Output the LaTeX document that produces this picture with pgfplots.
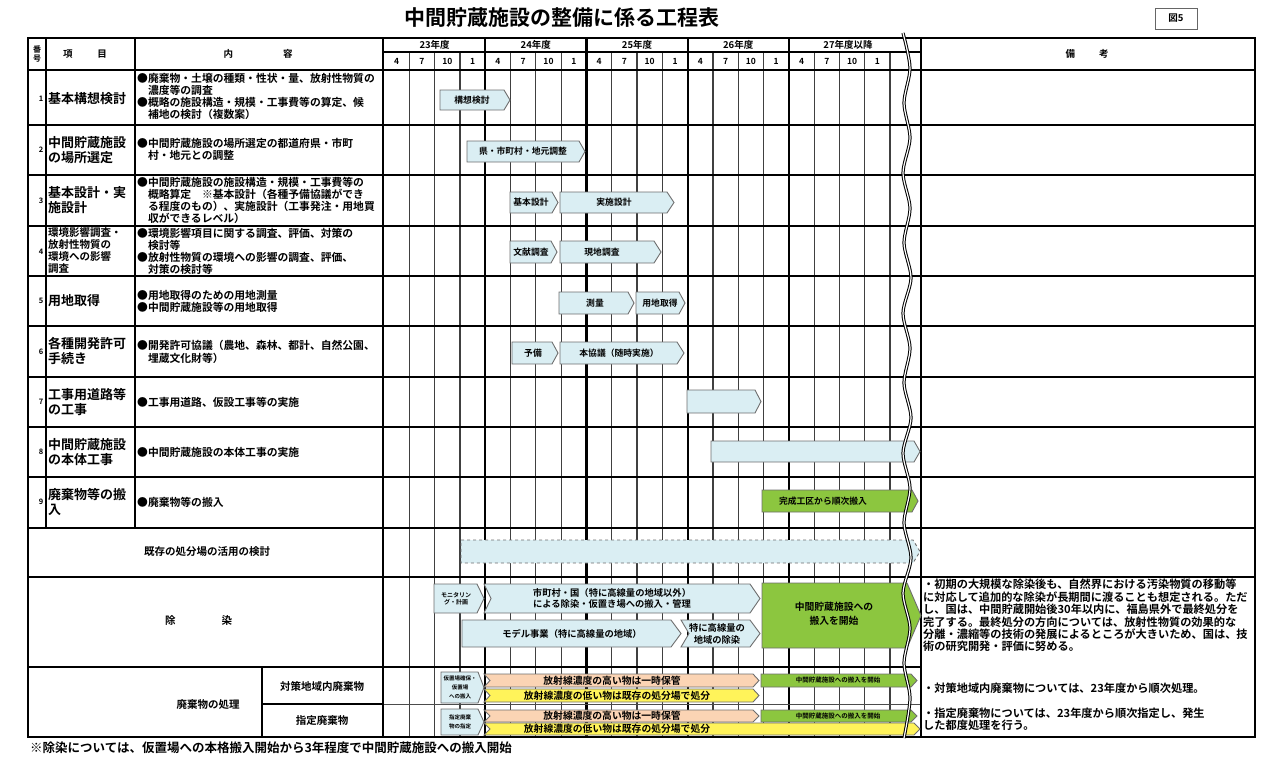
\documentclass[border=0pt]{standalone}
\usepackage{pgfplots}
\pgfplotsset{compat=1.18}
\usepackage{fontspec}
\setmainfont{Noto Sans CJK JP}[UprightFont=* Bold]
\definecolor{bluefill}{HTML}{DAEEF3}
\definecolor{bardraw}{HTML}{6E6E6E}
\definecolor{greenfill}{HTML}{8CC63F}
\definecolor{peachfill}{HTML}{FBD4B4}
\definecolor{yellowfill}{HTML}{FFF35A}
\newcommand\fs[2]{\fontsize{#1}{#2}\selectfont}
\newcommand\gbar[7]{%
  \pgfmathsetmacro\xa{#2-#5}%
  \pgfmathsetmacro\ym{(#3+#4)/2}%
  \pgfmathsetmacro\xn{#1+#6}%
  \edef\temp{\noexpand\addplot[#7] coordinates {(#1,#3) (\xa,#3) (#2,\ym) (\xa,#4) (#1,#4) (\xn,\ym)} -- cycle;}%
  \temp}
\tikzset{
  bluebar/.style={fill=bluefill, draw=bardraw, line width=0.9pt},
  dashbar/.style={fill=bluefill, draw=bardraw, dashed, line width=0.9pt},
  greenbar/.style={fill=greenfill, draw=bardraw, line width=0.9pt},
  peachbar/.style={fill=peachfill, draw=bardraw, line width=0.9pt},
  yellowbar/.style={fill=yellowfill, draw=bardraw, line width=0.9pt},
  ml/.style={line width=1.2pt, black!75},
  yl/.style={line width=2.2pt, black},
}
\begin{document}
\begin{tikzpicture}
\begin{axis}[width=1276pt,height=756pt,scale only axis,
  xmin=0,xmax=1276,ymin=0,ymax=756,y dir=reverse,hide axis,clip=false]
\path[draw=none] (0,0) rectangle (1276,756);
% ---------- grid in chart area
\draw[ml] (409.3,52) -- (409.3,737); \draw[ml] (434.6,52) -- (434.6,737); \draw[ml] (459.9,52) -- (459.9,737);
\draw[ml] (510.5,52) -- (510.5,737); \draw[ml] (535.8,52) -- (535.8,737); \draw[ml] (561.1,52) -- (561.1,737);
\draw[ml] (611.7,52) -- (611.7,737); \draw[ml] (637.0,52) -- (637.0,737); \draw[ml] (662.3,52) -- (662.3,737);
\draw[ml] (712.9,52) -- (712.9,737); \draw[ml] (738.2,52) -- (738.2,737); \draw[ml] (763.5,52) -- (763.5,737);
\draw[ml] (814.1,52) -- (814.1,737); \draw[ml] (839.4,52) -- (839.4,737); \draw[ml] (864.7,52) -- (864.7,737);
\draw[ml] (890.0,52) -- (890.0,737);
\draw[yl] (485.2,38) -- (485.2,737); \draw[yl] (586.4,38) -- (586.4,737);
\draw[yl] (687.6,38) -- (687.6,737); \draw[yl] (788.8,38) -- (788.8,737);
\draw[line width=1.3pt] (383,52) -- (921,52);
\draw[line width=0.9pt, black!70] (383,704) -- (921,704);
% ---------- table lines
\draw[line width=2pt] (28,125) -- (1255,125); \draw[line width=2pt] (28,175) -- (1255,175);
\draw[line width=2pt] (28,226) -- (1255,226); \draw[line width=2pt] (28,276) -- (1255,276);
\draw[line width=2pt] (28,326) -- (1255,326); \draw[line width=2pt] (28,377) -- (1255,377);
\draw[line width=2pt] (28,427) -- (1255,427); \draw[line width=2pt] (28,477) -- (1255,477);
\draw[line width=2.4pt] (28,528) -- (1255,528); \draw[line width=2.4pt] (28,577) -- (1255,577);
\draw[line width=2.2pt] (28,667) -- (921,667);
\draw[line width=2.4pt] (28,70) -- (1255,70);
\draw[line width=1.2pt] (46,38) -- (46,528);
\draw[line width=2pt] (135,38) -- (135,528);
\draw[line width=1.2pt] (262,667) -- (262,737);
\draw[line width=1.2pt] (262,704) -- (383,704);
\draw[line width=2.6pt] (383,38) -- (383,737);
\draw[line width=2.8pt] (921,38) -- (921,737);
\draw[line width=2.8pt] (28,38) rectangle (1255,737);
% ---------- bars
\gbar{440}{510}{90}{110}{6}{0}{bluebar}
\gbar{467}{585}{141}{162}{6}{0}{bluebar}
\gbar{510}{558}{192}{213}{6}{0}{bluebar}
\gbar{560}{674}{192}{213}{7}{0}{bluebar}
\gbar{510}{557}{241}{263}{6}{0}{bluebar}
\gbar{560}{661}{241}{263}{7}{0}{bluebar}
\gbar{559}{634}{292}{314}{6}{0}{bluebar}
\gbar{636}{685}{292}{314}{6}{0}{bluebar}
\gbar{512}{558}{342}{364}{6}{0}{bluebar}
\gbar{560}{684}{342}{364}{7}{0}{bluebar}
\gbar{687}{761}{390}{413}{6}{0}{bluebar}
\gbar{711}{920}{441}{462}{6}{0}{bluebar}
\gbar{762}{918}{490}{512}{6}{0}{greenbar}
\gbar{461}{920}{540}{563}{7}{0}{dashbar}
\gbar{434}{484}{584}{613}{7}{0}{bluebar}
\gbar{484}{760}{584}{613}{10}{7}{bluebar}
\gbar{462}{681}{620}{647}{10}{0}{bluebar}
\gbar{681}{760}{620}{647}{10}{8}{bluebar}
\gbar{762}{921}{583}{648}{14}{0}{greenbar}
\gbar{441}{484}{672}{703}{6}{0}{bluebar}
\gbar{484}{759}{674}{687}{6}{6}{peachbar}
\gbar{484}{759}{689}{702}{6}{6}{yellowbar}
\gbar{761}{917}{674}{687}{6}{0}{greenbar}
\gbar{441}{484}{709}{735}{6}{0}{bluebar}
\gbar{484}{759}{710}{722}{6}{6}{peachbar}
\gbar{761}{917}{710}{722}{6}{0}{greenbar}
\gbar{484}{920}{723}{735}{6}{6}{yellowbar}
% ---------- wavy break
\addplot[smooth, draw=black, line width=3.2pt] coordinates {(903,33) (910,68) (904,103) (910,138) (903,173) (910,208) (904,243) (911,278) (903,313) (910,348) (904,383) (911,418) (903,453) (910,488) (904,523) (911,558) (903,593) (910,628) (904,663) (910,698) (904,738)};
\addplot[smooth, draw=white, line width=1.2pt] coordinates {(903,33) (910,68) (904,103) (910,138) (903,173) (910,208) (904,243) (911,278) (903,313) (910,348) (904,383) (911,418) (903,453) (910,488) (904,523) (911,558) (903,593) (910,628) (904,663) (910,698) (904,738)};
% ---------- bar labels
\node[inner sep=0,font=\fs{8.8}{10}] at (472,100) {構想検討};
\node[inner sep=0,font=\fs{8.8}{10}] at (523,151.5) {県・市町村・地元調整};
\node[inner sep=0,font=\fs{8.8}{10}] at (531,202.5) {基本設計};
\node[inner sep=0,font=\fs{8.8}{10}] at (614,202.5) {実施設計};
\node[inner sep=0,font=\fs{8.8}{10}] at (531,252) {文献調査};
\node[inner sep=0,font=\fs{8.8}{10}] at (602,252) {現地調査};
\node[inner sep=0,font=\fs{8.8}{10}] at (595,303) {測量};
\node[inner sep=0,font=\fs{8.8}{10}] at (660,303) {用地取得};
\node[inner sep=0,font=\fs{8.8}{10}] at (533,353) {予備};
\node[inner sep=0,font=\fs{8.8}{10}] at (619,353) {本協議（随時実施）};
\node[inner sep=0,font=\fs{8.8}{10}] at (823,501) {完成工区から順次搬入};
\node[inner sep=0,font=\fs{6}{7.5},align=center] at (456,598.5) {モニタリン\\グ・計画};
\node[inner sep=0,font=\fs{9.3}{11.5},align=center] at (612,598.5) {市町村・国（特に高線量の地域以外）\\による除染・仮置き場への搬入・管理};
\node[inner sep=0,font=\fs{9.3}{11},align=center] at (572,633.5) {モデル事業（特に高線量の地域）};
\node[inner sep=0,font=\fs{9.3}{12},align=center] at (717,633.5) {特に高線量の\\地域の除染};
\node[inner sep=0,font=\fs{9.8}{14},align=center] at (834,614) {中間貯蔵施設への\\搬入を開始};
\node[inner sep=0,font=\fs{5.5}{9},align=center] at (460,687.5) {仮置場確保・\\仮置場\\への搬入};
\node[inner sep=0,font=\fs{5.5}{9},align=center] at (460,722) {指定廃棄\\物の指定};
\node[inner sep=0,font=\fs{9.8}{11}] at (612,680.5) {放射線濃度の高い物は一時保管};
\node[inner sep=0,font=\fs{9.8}{11}] at (617,695.5) {放射線濃度の低い物は既存の処分場で処分};
\node[inner sep=0,font=\fs{6.5}{8}] at (838,680.5) {中間貯蔵施設への搬入を開始};
\node[inner sep=0,font=\fs{9.8}{11}] at (612,716) {放射線濃度の高い物は一時保管};
\node[inner sep=0,font=\fs{6.5}{8}] at (838,716) {中間貯蔵施設への搬入を開始};
\node[inner sep=0,font=\fs{9.8}{11}] at (617,729) {放射線濃度の低い物は既存の処分場で処分};
% ---------- title and headers
\node[inner sep=0,font=\fs{21}{24}] at (562,18) {中間貯蔵施設の整備に係る工程表};
\draw[line width=0.9pt, black!60] (1155,8) rectangle (1197,29);
\node[inner sep=0,font=\fs{9.5}{10}] at (1176,18.5) {図5};
\node[inner sep=0,font=\fs{8}{9.5},align=center] at (37,54) {番\\号};
\node[inner sep=0,font=\fs{9.5}{10}] at (85,54) {項\hspace{25pt}目};
\node[inner sep=0,font=\fs{9.5}{10}] at (258,54) {内\hspace{50pt}容};
\node[inner sep=0,font=\fs{9.5}{10}] at (1087,54) {備\hspace{24pt}考};
\node[inner sep=0,font=\fs{9.5}{10}] at (434.6,45) {23年度};
\node[inner sep=0,font=\fs{9.5}{10}] at (535.8,45) {24年度};
\node[inner sep=0,font=\fs{9.5}{10}] at (637.0,45) {25年度};
\node[inner sep=0,font=\fs{9.5}{10}] at (738.2,45) {26年度};
\node[inner sep=0,font=\fs{9.5}{10}] at (848,45) {27年度以降};
\node[inner sep=0,font=\fs{8.5}{9}] at (396.7,61) {4};  \node[inner sep=0,font=\fs{8.5}{9}] at (422.0,61) {7};
\node[inner sep=0,font=\fs{8.5}{9}] at (447.3,61) {10}; \node[inner sep=0,font=\fs{8.5}{9}] at (472.6,61) {1};
\node[inner sep=0,font=\fs{8.5}{9}] at (497.9,61) {4};  \node[inner sep=0,font=\fs{8.5}{9}] at (523.2,61) {7};
\node[inner sep=0,font=\fs{8.5}{9}] at (548.5,61) {10}; \node[inner sep=0,font=\fs{8.5}{9}] at (573.8,61) {1};
\node[inner sep=0,font=\fs{8.5}{9}] at (599.1,61) {4};  \node[inner sep=0,font=\fs{8.5}{9}] at (624.4,61) {7};
\node[inner sep=0,font=\fs{8.5}{9}] at (649.7,61) {10}; \node[inner sep=0,font=\fs{8.5}{9}] at (675.0,61) {1};
\node[inner sep=0,font=\fs{8.5}{9}] at (700.3,61) {4};  \node[inner sep=0,font=\fs{8.5}{9}] at (725.6,61) {7};
\node[inner sep=0,font=\fs{8.5}{9}] at (750.9,61) {10}; \node[inner sep=0,font=\fs{8.5}{9}] at (776.2,61) {1};
\node[inner sep=0,font=\fs{8.5}{9}] at (801.5,61) {4};  \node[inner sep=0,font=\fs{8.5}{9}] at (826.8,61) {7};
\node[inner sep=0,font=\fs{8.5}{9}] at (852.1,61) {10}; \node[inner sep=0,font=\fs{8.5}{9}] at (877.4,61) {1};
% ---------- row numbers
\node[inner sep=0,font=\fs{7.5}{9}] at (41,99) {1};
\node[inner sep=0,font=\fs{7.5}{9}] at (41,150) {2};
\node[inner sep=0,font=\fs{7.5}{9}] at (41,201) {3};
\node[inner sep=0,font=\fs{7.5}{9}] at (41,252) {4};
\node[inner sep=0,font=\fs{7.5}{9}] at (41,301) {5};
\node[inner sep=0,font=\fs{7.5}{9}] at (41,352) {6};
\node[inner sep=0,font=\fs{7.5}{9}] at (41,402) {7};
\node[inner sep=0,font=\fs{7.5}{9}] at (41,452) {8};
\node[inner sep=0,font=\fs{7.5}{9}] at (41,502) {9};
% ---------- items
\node[inner sep=0,anchor=west,align=left,font=\fs{13}{15}] at (48,99) {基本構想検討};
\node[inner sep=0,anchor=west,align=left,font=\fs{13}{15}] at (48,150) {中間貯蔵施設\\の場所選定};
\node[inner sep=0,anchor=west,align=left,font=\fs{13}{15}] at (48,200) {基本設計・実\\施設計};
\node[inner sep=0,anchor=west,align=left,font=\fs{10.5}{12}] at (48,251) {環境影響調査・\\放射性物質の\\環境への影響\\調査};
\node[inner sep=0,anchor=west,align=left,font=\fs{13}{15}] at (48,301) {用地取得};
\node[inner sep=0,anchor=west,align=left,font=\fs{13}{15}] at (48,351) {各種開発許可\\手続き};
\node[inner sep=0,anchor=west,align=left,font=\fs{13}{15}] at (48,402) {工事用道路等\\の工事};
\node[inner sep=0,anchor=west,align=left,font=\fs{13}{15}] at (48,452) {中間貯蔵施設\\の本体工事};
\node[inner sep=0,anchor=west,align=left,font=\fs{13}{15}] at (48,502) {廃棄物等の搬\\入};
% ---------- contents
\node[inner sep=0,anchor=west,align=left,font=\fs{10.8}{12}] at (137,96) {●廃棄物・土壌の種類・性状・量、放射性物質の\\　濃度等の調査\\●概略の施設構造・規模・工事費等の算定、候\\　補地の検討（複数案）};
\node[inner sep=0,anchor=west,align=left,font=\fs{10.8}{12.5}] at (137,149.5) {●中間貯蔵施設の場所選定の都道府県・市町\\　村・地元との調整};
\node[inner sep=0,anchor=west,align=left,font=\fs{10.8}{12}] at (137,200.5) {●中間貯蔵施設の施設構造・規模・工事費等の\\　概略算定　※基本設計（各種予備協議ができ\\　る程度のもの）、実施設計（工事発注・用地買\\　収ができるレベル）};
\node[inner sep=0,anchor=west,align=left,font=\fs{10.8}{12}] at (137,251) {●環境影響項目に関する調査、評価、対策の\\　検討等\\●放射性物質の環境への影響の調査、評価、\\　対策の検討等};
\node[inner sep=0,anchor=west,align=left,font=\fs{10.8}{12}] at (137,301.5) {●用地取得のための用地測量\\●中間貯蔵施設等の用地取得};
\node[inner sep=0,anchor=west,align=left,font=\fs{10.8}{13}] at (137,351.5) {●開発許可協議（農地、森林、都計、自然公園、\\　埋蔵文化財等）};
\node[inner sep=0,anchor=west,align=left,font=\fs{10.8}{12}] at (137,402) {●工事用道路、仮設工事等の実施};
\node[inner sep=0,anchor=west,align=left,font=\fs{10.8}{12}] at (137,452) {●中間貯蔵施設の本体工事の実施};
\node[inner sep=0,anchor=west,align=left,font=\fs{10.8}{12}] at (137,502) {●廃棄物等の搬入};
% ---------- merged rows
\node[inner sep=0,font=\fs{10.5}{12}] at (207,552) {既存の処分場の活用の検討};
\node[inner sep=0,font=\fs{10.5}{12}] at (198.5,620) {除\hspace{46pt}染};
\node[inner sep=0,font=\fs{10.5}{12}] at (208,705) {廃棄物の処理};
\node[inner sep=0,font=\fs{10.5}{12}] at (322,686) {対策地域内廃棄物};
\node[inner sep=0,font=\fs{10.5}{12}] at (322,721) {指定廃棄物};
% ---------- remarks
\node[inner sep=0,anchor=north west,align=left,font=\fs{11.2}{12.4}] at (923,579) {・初期の大規模な除染後も、自然界における汚染物質の移動等\\に対応して追加的な除染が長期間に渡ることも想定される。ただ\\し、国は、中間貯蔵開始後30年以内に、福島県外で最終処分を\\完了する。最終処分の方向については、放射性物質の効果的な\\分離・濃縮等の技術の発展によるところが大きいため、国は、技\\術の研究開発・評価に努める。};
\node[inner sep=0,anchor=west,align=left,font=\fs{11.2}{12}] at (923,688) {・対策地域内廃棄物については、23年度から順次処理。};
\node[inner sep=0,anchor=west,align=left,font=\fs{11.2}{12}] at (923,719) {・指定廃棄物については、23年度から順次指定し、発生\\した都度処理を行う。};
% ---------- footnote
\node[inner sep=0,anchor=west,font=\fs{12.5}{14}] at (30,748) {※除染については、仮置場への本格搬入開始から3年程度で中間貯蔵施設への搬入開始};
\end{axis}
\end{tikzpicture}
\end{document}
